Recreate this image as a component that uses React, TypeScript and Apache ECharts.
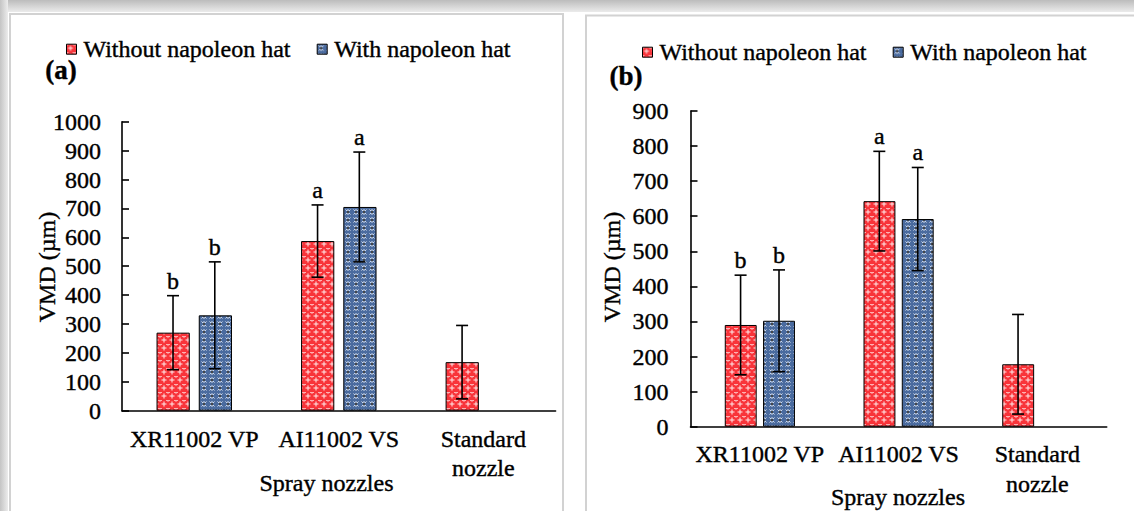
import React, { useEffect, useRef } from "react";
import * as echarts from "echarts";

const categories = ["XR11002 VP", "AI11002 VS", "Standard\nnozzle"];
const seriesNames = ["Without napoleon hat", "With napoleon hat"];

// Panel (a)
const aWithout = [270, 587, 168];
const aWithoutSd = [128, 125, 127];
const aWithoutLetters = ["b", "a", ""];
const aWith = [330, 705, null];
const aWithSd = [185, 190, null];
const aWithLetters = ["b", "a", ""];

// Panel (b)
const bWithout = [290, 643, 178];
const bWithoutSd = [142, 142, 142];
const bWithoutLetters = ["b", "a", ""];
const bWith = [302, 592, null];
const bWithSd = [145, 147, null];
const bWithLetters = ["b", "a", ""];

const yTitle = "VMD (µm)";
const xTitle = "Spray nozzles";
const panelLabels = ["(a)", "(b)"];

const FONT = "Liberation Serif, serif";
const THICK = { textBorderColor: "#000", textBorderWidth: 0.4 };

const svgUrl = (s: string) => "data:image/svg+xml;charset=utf-8," + encodeURIComponent(s);

const redTile = svgUrl(
  "<svg xmlns='http://www.w3.org/2000/svg' width='8' height='8'>" +
    "<rect width='8' height='8' fill='#f8343a'/>" +
    "<path d='M4 1.5v5M1.5 4h5' stroke='#ffffff' stroke-width='1' opacity='0.9'/>" +
    "<path d='M0 0.5h2M6 0.5h2M0.5 0v1.5M7.5 0v1.5' stroke='#ffd0d0' stroke-width='1' opacity='0.8'/>" +
    "</svg>"
);
const blueTile = svgUrl(
  "<svg xmlns='http://www.w3.org/2000/svg' width='8' height='8'>" +
    "<rect width='8' height='8' fill='#4a6b9f'/>" +
    "<path d='M1.5 1.5l5 5M6.5 1.5l-5 5M4 1v6' stroke='#ffffff' stroke-width='0.9' opacity='0.85'/>" +
    "<circle cx='4' cy='4' r='1' fill='#111'/>" +
    "</svg>"
);

const redPattern: any = { image: redTile, repeat: "repeat", imageWidth: 8, imageHeight: 8 };
const bluePattern: any = { image: blueTile, repeat: "repeat", imageWidth: 8, imageHeight: 8 };

function errorSeries(
  gridIdx: number,
  name: string,
  means: (number | null)[],
  sds: (number | null)[],
  letters: string[],
  offset: number
) {
  const data = means
    .map((m, i) => (m == null ? null : [i, m, sds[i] as number]))
    .filter((d) => d != null);
  return {
    type: "custom",
    name: name + " error",
    xAxisIndex: gridIdx,
    yAxisIndex: gridIdx,
    z: 5,
    silent: true,
    data,
    renderItem: (params: any, api: any) => {
      const idx = api.value(0);
      const mean = api.value(1);
      const sd = api.value(2);
      const c = api.coord([idx, mean]);
      const catW = api.size([1, 0])[0];
      const x = c[0] + offset * catW;
      const top = api.coord([idx, mean + sd])[1];
      const bot = api.coord([idx, mean - sd])[1];
      const st = { stroke: "#000", lineWidth: 1.6 };
      const letter = letters[idx] || "";
      return {
        type: "group",
        children: [
          { type: "line", shape: { x1: x, y1: top, x2: x, y2: bot }, style: st },
          { type: "line", shape: { x1: x - 6, y1: top, x2: x + 6, y2: top }, style: st },
          { type: "line", shape: { x1: x - 6, y1: bot, x2: x + 6, y2: bot }, style: st },
          {
            type: "text",
            x,
            y: top - 3,
            style: {
              text: letter,
              fill: "#000",
              font: `24px ${FONT}`,
              align: "center",
              verticalAlign: "bottom",
              stroke: "#000",
              lineWidth: 0.4,
            },
          },
        ],
      };
    },
  };
}

export default function App() {
  const ref = useRef<HTMLDivElement>(null);

  useEffect(() => {
    if (!ref.current) return;
    const chart = echarts.init(ref.current, undefined, { renderer: "svg" });

    const axisLineStyle = { color: "#000", width: 1.6 };
    const mkX = (grid: number, margin: number, lh: number) => ({
      type: "category",
      gridIndex: grid,
      data: categories,
      axisLine: { lineStyle: axisLineStyle },
      axisTick: { inside: true, length: 7, lineStyle: axisLineStyle, alignWithLabel: false },
      axisLabel: {
        interval: 0,
        color: "#000",
        fontFamily: FONT,
        fontSize: 24,
        lineHeight: lh,
        margin,
        ...THICK,
      },
      splitLine: { show: false },
    });
    const mkY = (grid: number, max: number, margin: number) => ({
      type: "value",
      gridIndex: grid,
      min: 0,
      max,
      interval: 100,
      axisLine: { show: true, lineStyle: axisLineStyle },
      axisTick: { show: true, inside: true, length: 7, lineStyle: axisLineStyle },
      axisLabel: {
        color: "#000",
        fontFamily: FONT,
        fontSize: 24,
        margin,
        formatter: (v: number) => String(v),
        ...THICK,
      },
      splitLine: { show: false },
    });

    const barItem = (p: any) => ({ color: p, borderColor: "#000", borderWidth: 1 });

    const legendBase = {
      data: seriesNames,
      icon: "rect",
      padding: 0,
      itemWidth: 10,
      itemHeight: 10,
      itemGap: 26,
      selectedMode: false,
      itemStyle: { borderColor: "#000", borderWidth: 1 },
      textStyle: {
        color: "#000",
        fontFamily: FONT,
        fontSize: 24,
        padding: [0, 0, 0, 2],
        ...THICK,
      },
    };

    const gText = (text: string, x: number, y: number, font: string, rot = 0) => ({
      type: "text",
      x,
      y,
      rotation: rot,
      style: {
        text,
        fill: "#000",
        font,
        align: "center",
        verticalAlign: "middle",
        stroke: "#000",
        lineWidth: 0.4,
      },
    });

    const option: any = {
      animation: false,
      backgroundColor: "#fff",
      textStyle: { fontFamily: FONT },
      grid: [
        { left: 122, top: 121.7, width: 433.6, height: 289, containLabel: false },
        { left: 690.5, top: 111, width: 416.2, height: 315.7, containLabel: false },
      ],
      legend: [
        { ...legendBase, left: 66, top: 37 },
        { ...legendBase, left: 642, top: 40 },
      ],
      xAxis: [mkX(0, 14, 29), mkX(1, 12, 30)],
      yAxis: [mkY(0, 1000, 21), mkY(1, 900, 22)],
      series: [
        {
          type: "bar",
          name: seriesNames[0],
          xAxisIndex: 0,
          yAxisIndex: 0,
          data: aWithout,
          barWidth: "23%",
          barGap: "27%",
          itemStyle: barItem(redPattern),
        },
        {
          type: "bar",
          name: seriesNames[1],
          xAxisIndex: 0,
          yAxisIndex: 0,
          data: aWith,
          barWidth: "23%",
          barGap: "27%",
          itemStyle: barItem(bluePattern),
        },
        {
          type: "bar",
          name: seriesNames[0],
          xAxisIndex: 1,
          yAxisIndex: 1,
          data: bWithout,
          barWidth: "23%",
          barGap: "20%",
          itemStyle: barItem(redPattern),
        },
        {
          type: "bar",
          name: seriesNames[1],
          xAxisIndex: 1,
          yAxisIndex: 1,
          data: bWith,
          barWidth: "23%",
          barGap: "20%",
          itemStyle: barItem(bluePattern),
        },
        errorSeries(0, seriesNames[0], aWithout, aWithoutSd, aWithoutLetters, -0.147),
        errorSeries(0, seriesNames[1], aWith, aWithSd, aWithLetters, 0.142),
        errorSeries(1, seriesNames[0], bWithout, bWithoutSd, bWithoutLetters, -0.139),
        errorSeries(1, seriesNames[1], bWith, bWithSd, bWithLetters, 0.138),
      ],
      graphic: [
        {
          type: "rect",
          z: -10,
          shape: { x: 0, y: 0, width: 1134, height: 12 },
          style: {
            fill: new echarts.graphic.LinearGradient(0, 0, 0, 1, [
              { offset: 0, color: "#bcbcbc" },
              { offset: 1, color: "#ebebeb" },
            ]),
          },
        },
        {
          type: "rect",
          z: -10,
          shape: { x: 0, y: 0, width: 8, height: 511 },
          style: {
            fill: new echarts.graphic.LinearGradient(0, 0, 1, 0, [
              { offset: 0, color: "#c4c4c4" },
              { offset: 1, color: "#ececec" },
            ]),
          },
        },
        {
          type: "rect",
          z: -9,
          shape: { x: 10, y: 14, width: 553, height: 520 },
          style: { fill: "#fff", stroke: "#d2d2d2", lineWidth: 2 },
        },
        {
          type: "rect",
          z: -9,
          shape: { x: 586, y: 15.5, width: 570, height: 520 },
          style: { fill: "#fff", stroke: "#d2d2d2", lineWidth: 2 },
        },
        gText(panelLabels[0], 61, 70, `bold 27px ${FONT}`),
        gText(panelLabels[1], 626, 76, `bold 27px ${FONT}`),
        gText(yTitle, 47, 267, `24px ${FONT}`, Math.PI / 2),
        gText(yTitle, 612, 267, `24px ${FONT}`, Math.PI / 2),
        gText(xTitle, 326.5, 483, `24px ${FONT}`),
        gText(xTitle, 898, 497, `24px ${FONT}`),
      ],
    };

    chart.setOption(option);
    return () => chart.dispose();
  }, []);

  return (
    <div
      ref={ref}
      style={{ position: "absolute", left: 0, top: 0, width: 1134, height: 511 }}
    />
  );
}
